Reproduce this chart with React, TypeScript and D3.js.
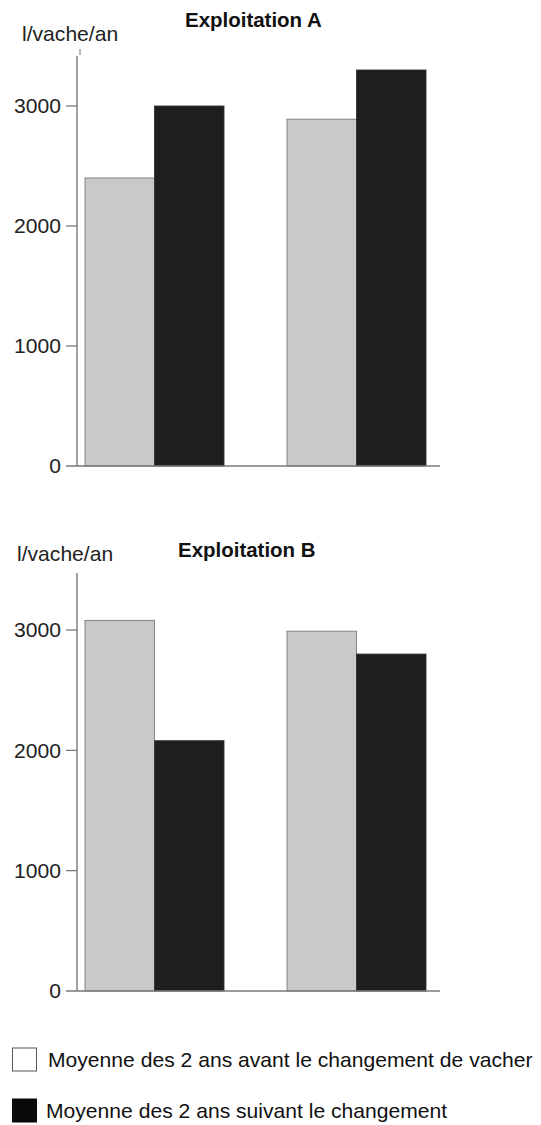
import React from "react";
import * as d3 from "d3";

const groups = ["Groupe 1", "Groupe 2"];
const seriesKeys = ["avant", "apres"];
const farmAAvant = [2400, 2890];
const farmAApres = [3000, 3300];
const farmBAvant = [3080, 2990];
const farmBApres = [2080, 2800];
const yTicks = [0, 1000, 2000, 3000];
const titles = ["Exploitation A", "Exploitation B"];
const unitLabel = "l/vache/an";
const legendLabels = [
  "Moyenne des 2 ans avant le changement de vacher",
  "Moyenne des 2 ans suivant le changement",
];

const FONT = "'Liberation Sans', Arial, Helvetica, sans-serif";
const SX = 1.03;
const FS = 20.5;
const GRAY = "#c9c9c9";
const BLACK = "#1e1e1e";

type PanelProps = {
  avant: number[];
  apres: number[];
  title: string;
  y0: number;
  y3000: number;
  axisTop: number;
  titleX: number;
  titleY: number;
  unitX: number;
  unitY: number;
  artifact?: boolean;
};

function Panel(p: PanelProps) {
  const y = d3.scaleLinear().domain([0, 3000]).range([p.y0, p.y3000]);
  const x = d3.scaleBand<string>().domain(groups).range([85, 426]).paddingInner(0.312).paddingOuter(0);
  const xs = d3.scaleBand<string>().domain(seriesKeys).range([0, x.bandwidth()]).padding(0);
  const axisX = 77;
  const vals: Record<string, number[]> = { avant: p.avant, apres: p.apres };
  return (
    <g>
      <text
        transform={`translate(${p.titleX},${p.titleY}) scale(1.05,1)`}
        fontFamily={FONT}
        fontWeight="bold"
        fontSize={19.5}
        fill="#111"
      >
        {p.title}
      </text>
      <text
        transform={`translate(${p.unitX},${p.unitY}) scale(${SX},1)`}
        fontFamily={FONT}
        fontSize={FS}
        fill="#222"
      >
        {unitLabel}
      </text>
      {p.artifact && <line x1={80} x2={80} y1={49} y2={55} stroke="#777" strokeWidth={1} />}
      {groups.map((g, gi) =>
        seriesKeys.map((s) => {
          const v = vals[s][gi];
          const bx = (x(g) ?? 0) + (xs(s) ?? 0);
          return (
            <rect
              key={g + s}
              x={bx}
              y={y(v)}
              width={xs.bandwidth()}
              height={y(0) - y(v)}
              fill={s === "avant" ? GRAY : BLACK}
              stroke={s === "avant" ? "#7a7a7a" : "#333"}
              strokeWidth={0.9}
            />
          );
        })
      )}
      <line x1={axisX} x2={axisX} y1={p.axisTop} y2={y(0)} stroke="#6e6e6e" strokeWidth={1.3} />
      <line x1={66} x2={440} y1={y(0)} y2={y(0)} stroke="#7a7a7a" strokeWidth={1.3} />
      {yTicks.map((t) => (
        <g key={t}>
          {t > 0 && <line x1={66} x2={axisX} y1={y(t)} y2={y(t)} stroke="#6e6e6e" strokeWidth={1.2} />}
          <text
            transform={`translate(61,${y(t)}) scale(${SX},1)`}
            dy="0.36em"
            textAnchor="end"
            fontFamily={FONT}
            fontSize={FS}
            fill="#222"
          >
            {t}
          </text>
        </g>
      ))}
    </g>
  );
}

export default function App() {
  return (
    <svg
      width={541}
      height={1125}
      style={{ position: "absolute", left: 0, top: 0, background: "#fff" }}
    >
      <rect x={0} y={0} width={541} height={1125} fill="#fff" />
      <Panel
        avant={farmAAvant}
        apres={farmAApres}
        title={titles[0]}
        y0={466}
        y3000={106}
        axisTop={56}
        titleX={185}
        titleY={27}
        unitX={22}
        unitY={41}
        artifact
      />
      <Panel
        avant={farmBAvant}
        apres={farmBApres}
        title={titles[1]}
        y0={991}
        y3000={630}
        axisTop={573}
        titleX={178}
        titleY={557}
        unitX={17}
        unitY={561}
      />
      {legendLabels.map((lab, i) => {
        const top = i === 0 ? 1048 : 1099;
        return (
          <g key={lab}>
            <rect
              x={12.5}
              y={top}
              width={24}
              height={23}
              fill={i === 0 ? "#fff" : "#0a0a0a"}
              stroke={i === 0 ? "#555" : "#0a0a0a"}
              strokeWidth={1}
            />
            <text
              transform={`translate(${i === 0 ? 48 : 46},${top + 19}) scale(${SX},1)`}
              fontFamily={FONT}
              fontSize={FS}
              fill="#111"
            >
              {lab}
            </text>
          </g>
        );
      })}
    </svg>
  );
}
